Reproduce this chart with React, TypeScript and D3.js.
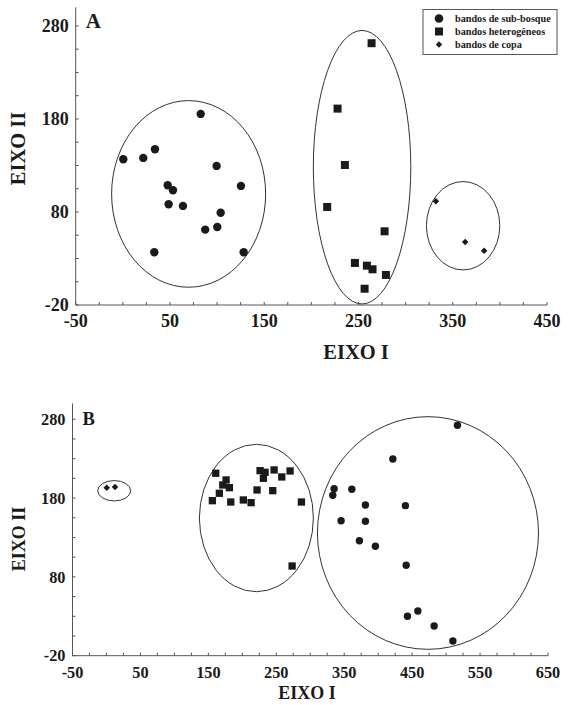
import React from "react";
import * as d3 from "d3";

// ---------- Panel A data ----------
const aSubBosque: [number, number][] = [
  [0.5, 136.7], [21.7, 138.1], [34.1, 147.4], [82.6, 185.4], [99.5, 129.5],
  [47.6, 108.7], [53.2, 103.3], [125.3, 108], [48.6, 88.3], [63.8, 86.5],
  [103.8, 79.2], [87.4, 61], [100.2, 63.9], [33.4, 36.7], [128.2, 36.7],
];
const aHeterogeneos: [number, number][] = [
  [263.9, 261.4], [227.8, 191.1], [235.6, 130.5], [216.8, 85.4], [277.7, 59.2],
  [246.2, 25.2], [258.9, 22.3], [264.9, 18.4], [279.1, 12.3], [256.5, -2.5],
];
const aCopa: [number, number][] = [
  [332.1, 91.5], [363.2, 47.7], [383.3, 38.4],
];
// ellipses: [cx, cy, rx, ry] in data units
const aEllipses: [number, number, number, number][] = [
  [69.8, 99.4, 81.7, 100.3],
  [253.8, 128.1, 51.7, 147],
  [361, 65.2, 38.9, 47.5],
];
const aXTicks = [-50, 50, 150, 250, 350, 450];
const aYTicks = [-20, 80, 180, 280];

// ---------- Panel B data ----------
const bSubBosque: [number, number][] = [
  [516.7, 272.4], [421.6, 229.6], [335.1, 191.9], [333.2, 183.6], [361.2, 191.2],
  [381.2, 171.2], [440.1, 170.4], [345.4, 151.3], [381.2, 150.6], [372.4, 125.9],
  [395.9, 118.8], [441.2, 94.7], [458.4, 36.7], [443.1, 30], [482.4, 17.7],
  [510, -1.3],
];
const bHeterogeneos: [number, number][] = [
  [160.9, 211.5], [176.1, 203], [180.9, 193.2], [171.2, 196.6], [166.2, 186.1],
  [155.9, 176.7], [183, 175], [201.5, 177.6], [212.9, 174.2], [221.7, 190.3],
  [226.1, 214.8], [233.5, 212.7], [231, 205.1], [246.8, 215.7], [258.1, 206.8],
  [270.3, 214.4], [244.8, 189.4], [287, 175], [273.3, 93.8],
];
const bCopa: [number, number][] = [
  [0.4, 193.2], [12.6, 194.1],
];
const bEllipses: [number, number, number, number][] = [
  [11.4, 189.3, 24.3, 12.9],
  [220.7, 154.7, 83.9, 93.5],
  [473.3, 135.7, 162.7, 147.6],
];
const bXTicks = [-50, 50, 150, 250, 350, 450, 550, 650];
const bYTicks = [-20, 80, 180, 280];

const legendLabels = ["bandos de sub-bosque", "bandos heterogêneos", "bandos de copa"];

const FONT = "'Liberation Serif', 'Times New Roman', serif";
const INK = "#1a1a1a";
const AXIS = "#555";

type PanelProps = {
  letter: string;
  xDomain: [number, number];
  yDomain: [number, number];
  left: number; right: number; top: number; bottom: number;
  xTicks: number[]; yTicks: number[];
  sub: [number, number][]; het: [number, number][]; copa: [number, number][];
  ellipses: [number, number, number, number][];
  tickFont: number; titleFont: number; letterFont: number;
  xTitleX: number; xTitleY: number; yTitleX: number; yTitleY: number;
  xLabelBaseline: number;
  circleR: number; squareS: number; diamondS: number;
};

function Panel(p: PanelProps) {
  const x = d3.scaleLinear().domain(p.xDomain).range([p.left, p.right]);
  const y = d3.scaleLinear().domain(p.yDomain).range([p.bottom, p.top]);
  const xMinor = d3.range(p.xDomain[0], p.xDomain[1] + 0.01, 25);
  const yMinor = d3.range(p.yDomain[0], p.yDomain[1] + 0.01, 25);
  const tl = 3;
  return (
    <g>
      {/* axes */}
      <line x1={p.left} x2={p.left} y1={p.top} y2={p.bottom} stroke={AXIS} strokeWidth={1} />
      <line x1={p.left} x2={p.right} y1={p.bottom} y2={p.bottom} stroke={AXIS} strokeWidth={1} />
      {xMinor.map((v, i) => (
        <line key={"xm" + i} x1={x(v)} x2={x(v)} y1={p.bottom} y2={p.bottom - tl} stroke={AXIS} strokeWidth={1} />
      ))}
      {yMinor.map((v, i) => (
        <line key={"ym" + i} x1={p.left} x2={p.left + tl} y1={y(v)} y2={y(v)} stroke={AXIS} strokeWidth={1} />
      ))}
      {p.xTicks.map((v) => (
        <text key={"xl" + v} x={x(v)} y={p.xLabelBaseline} textAnchor="middle"
          fontFamily={FONT} fontWeight="bold" fontSize={p.tickFont} fill={INK}>{v}</text>
      ))}
      {p.yTicks.map((v) => (
        <text key={"yl" + v} x={p.left - 7} y={y(v) + 2} textAnchor="end" dominantBaseline="middle"
          fontFamily={FONT} fontWeight="bold" fontSize={p.tickFont} fill={INK}>{v}</text>
      ))}
      {/* titles */}
      <text x={p.xTitleX} y={p.xTitleY} textAnchor="middle" fontFamily={FONT} fontWeight="bold"
        fontSize={p.titleFont} fill={INK}>EIXO I</text>
      <text transform={`translate(${p.yTitleX},${p.yTitleY}) rotate(-90)`} textAnchor="middle"
        fontFamily={FONT} fontWeight="bold" fontSize={p.titleFont} fill={INK}>EIXO II</text>
      <text x={p.left + 10} y={p.top + 21} fontFamily={FONT} fontWeight="bold"
        fontSize={p.letterFont} fill={INK}>{p.letter}</text>
      {/* ellipses */}
      {p.ellipses.map((e, i) => (
        <ellipse key={"e" + i} cx={x(e[0])} cy={y(e[1])}
          rx={x(e[0] + e[2]) - x(e[0])} ry={y(e[1]) - y(e[1] + e[3])}
          fill="none" stroke="#333" strokeWidth={1} />
      ))}
      {/* points */}
      {p.sub.map((d, i) => (
        <circle key={"c" + i} cx={x(d[0])} cy={y(d[1])} r={p.circleR} fill={INK} />
      ))}
      {p.het.map((d, i) => (
        <rect key={"s" + i} x={x(d[0]) - p.squareS / 2} y={y(d[1]) - p.squareS / 2}
          width={p.squareS} height={p.squareS} fill={INK} />
      ))}
      {p.copa.map((d, i) => (
        <rect key={"d" + i} x={-p.diamondS / 2} y={-p.diamondS / 2} width={p.diamondS} height={p.diamondS}
          transform={`translate(${x(d[0])},${y(d[1])}) rotate(45)`} fill={INK} />
      ))}
    </g>
  );
}

function Legend() {
  const lx = 423, ly = 9.5, lw = 134, lh = 45;
  const rows = [18.5, 31.5, 44.5];
  return (
    <g>
      <rect x={lx} y={ly} width={lw} height={lh} fill="white" stroke="#555" strokeWidth={1} />
      <circle cx={439} cy={rows[0]} r={4.3} fill={INK} />
      <rect x={435} y={rows[1] - 4} width={8} height={8} fill={INK} />
      <rect x={-2.3} y={-2.3} width={4.6} height={4.6} transform={`translate(439,${rows[2]}) rotate(45)`} fill={INK} />
      {legendLabels.map((t, i) => (
        <text key={t} x={455} y={rows[i] + 3.5} fontFamily={FONT} fontWeight="bold" fontSize={10.2} fill={INK}>{t}</text>
      ))}
    </g>
  );
}

export default function App() {
  return (
    <svg width={571} height={705} style={{ position: "absolute", left: 0, top: 0, background: "white" }}>
      <rect width={571} height={705} fill="white" />
      <Panel letter="A" xDomain={[-50, 450]} yDomain={[-20, 300]}
        left={75.7} right={547} top={7.3} bottom={305}
        xTicks={aXTicks} yTicks={aYTicks}
        sub={aSubBosque} het={aHeterogeneos} copa={aCopa} ellipses={aEllipses}
        tickFont={18} titleFont={20.5} letterFont={21}
        xTitleX={356} xTitleY={359} yTitleX={25} yTitleY={148.5}
        xLabelBaseline={327}
        circleR={4.2} squareS={8} diamondS={4.6} />
      <Legend />
      <Panel letter="B" xDomain={[-50, 650]} yDomain={[-20, 300]}
        left={72.5} right={548} top={403.5} bottom={655.7}
        xTicks={bXTicks} yTicks={bYTicks}
        sub={bSubBosque} het={bHeterogeneos} copa={bCopa} ellipses={bEllipses}
        tickFont={16.3} titleFont={18} letterFont={18.5}
        xTitleX={307} xTitleY={699} yTitleX={25} yTitleY={539}
        xLabelBaseline={678}
        circleR={3.7} squareS={7.3} diamondS={4.6} />
    </svg>
  );
}
